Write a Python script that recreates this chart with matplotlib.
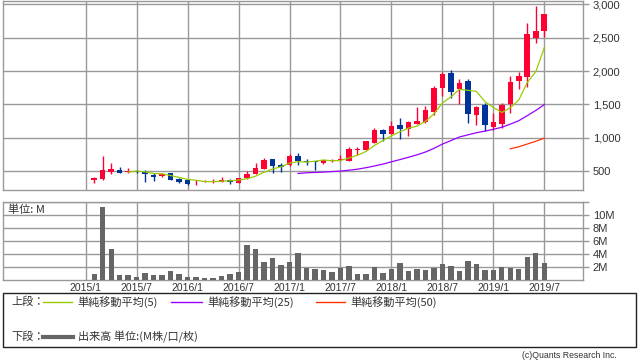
import matplotlib
matplotlib.use('Agg')
import matplotlib.pyplot as plt
import numpy as np
from matplotlib.lines import Line2D
from matplotlib.patches import Rectangle

# monthly candles, 2015/2 .. 2019/7
opens = [375, 385, 495, 520, 485, 500, 490, 450, 425, 475,
         385, 370, 335, 337, 350, 340, 370, 330, 395, 465,
         540, 685, 595, 595, 730, 655, 655, 630, 655, 665,
         655, 825, 820, 925, 1120, 1060, 1200, 1135, 1210, 1235,
         1380, 1745, 1970, 1735, 1855, 1340, 1495, 1160, 1215, 1510,
         1850, 1905, 2500, 2600]
highs = [410, 735, 625, 565, 550, 520, 520, 480, 470, 480,
         405, 375, 365, 368, 385, 415, 390, 405, 510, 630,
         705, 690, 620, 765, 780, 690, 660, 675, 685, 740,
         865, 870, 960, 1155, 1140, 1250, 1290, 1255, 1460, 1470,
         1770, 1990, 2020, 1885, 1885, 1475, 1515, 1370, 1520, 1920,
         1990, 2720, 2975, 2855]
lows = [320, 370, 465, 478, 482, 470, 335, 360, 410, 370,
        325, 300, 295, 333, 330, 335, 315, 325, 390, 460,
        535, 480, 490, 580, 595, 595, 525, 610, 635, 660,
        650, 745, 815, 920, 955, 1055, 985, 1030, 1205, 1230,
        1345, 1620, 1595, 1505, 1225, 1190, 1100, 1125, 1155, 1370,
        1735, 1760, 2420, 2510]
closes = [400, 520, 535, 480, 500, 487, 455, 415, 455, 375,
          340, 315, 345, 362, 362, 375, 345, 400, 465, 550,
          670, 585, 570, 735, 660, 645, 645, 665, 670, 685,
          835, 840, 955, 1115, 1065, 1180, 1140, 1235, 1255, 1420,
          1745, 1955, 1690, 1820, 1350, 1465, 1195, 1245, 1495, 1830,
          1920, 2550, 2595, 2850]
volumes = [0.96, 11.2, 4.76, 0.81, 0.81, 0.5, 1.16, 0.81, 0.81, 1.42,
           0.96, 0.5, 0.5, 0.35, 0.35, 0.66, 0.96, 1.27, 5.37, 4.76,
           2.78, 3.39, 2.33, 2.78, 4.15, 1.87, 1.72, 1.57, 1.27, 1.87,
           2.18, 0.96, 0.96, 2.03, 1.11, 1.72, 2.63, 1.42, 1.72, 1.57,
           1.87, 2.48, 2.18, 1.42, 2.94, 2.48, 1.57, 1.57, 2.03, 1.87,
           1.72, 3.54, 4.15, 2.63]

# moving averages as drawn (start at candle 5 / 25 / 50)
ma5 = [487, 504, 491, 467, 462, 437, 408, 380, 366, 347,
       345, 352, 358, 369, 389, 427, 486, 534, 568, 622,
       644, 639, 651, 670, 657, 662, 700, 739, 797, 886,
       962, 1031, 1091, 1147, 1175, 1246, 1359, 1522, 1613, 1726,
       1712, 1696, 1544, 1455, 1380, 1450, 1568, 1830, 1989, 2349]
ma25 = [468, 478, 483, 488, 496, 503, 517, 532, 554, 580,
        608, 642, 675, 710, 746, 788, 843, 907, 959, 1013,
        1045, 1077, 1101, 1128, 1159, 1206, 1257, 1333, 1410, 1497]
ma50 = [837, 867, 908, 949, 996]

tick_labels = ['2015/1', '2015/7', '2016/1', '2016/7', '2017/1',
               '2017/7', '2018/1', '2018/7', '2019/1', '2019/7']

W, H = 638, 362
def fx(x):
    return x / W
def fy(y):
    return 1 - y / H

RED = '#ff0033'
BLUE = '#003399'
GRID = '#999999'
TXT = '#333333'
JP = ['Noto Sans CJK JP', 'DejaVu Sans']
plt.rcParams['font.family'] = ['Liberation Sans', 'DejaVu Sans']

fig = plt.figure(figsize=(W / 100, H / 100), dpi=100)
ax = fig.add_axes([fx(3), fy(190.3), fx(580), 189.8 / H])
axv = fig.add_axes([fx(3), fy(280.3), fx(580), 78.8 / H])

x = np.arange(1, len(closes) + 1)  # month index, 0 = 2015/1
o = np.array(opens)
c = np.array(closes)
cols = [RED if cc >= oo else BLUE for oo, cc in zip(o, c)]

ax.vlines(x, lows, highs, colors=cols, lw=1.0, zorder=3)
ax.bar(x, np.maximum(np.abs(c - o), 12), bottom=np.minimum(o, c), width=0.66,
       color=cols, zorder=4)
ax.plot(x[4:], ma5, color='#99cc00', lw=0.9, zorder=5)
ax.plot(x[24:], ma25, color='#9900ff', lw=0.9, zorder=5)
ax.plot(x[49:], ma50, color='#ff3300', lw=0.9, zorder=5)

axv.bar(x, volumes, width=0.63, color='#666666', zorder=3)

xt = np.arange(0, 55, 6)
for a in (ax, axv):
    a.set_xlim(-9.74, 58.56)
    a.set_xticks(xt)
    a.grid(True, color=GRID, lw=1.0, zorder=0)
    a.set_axisbelow(True)
    for s in a.spines.values():
        s.set_color(GRID)
        s.set_linewidth(1.0)
    a.yaxis.tick_right()
    a.tick_params(axis='y', length=4, color=GRID, width=1.0, labelsize=8,
                  labelcolor=TXT, pad=3)
    a.tick_params(axis='x', length=0, labelsize=7.5, labelcolor=TXT, pad=2)

ax.set_ylim(216, 3055)
ax.set_yticks([500, 1000, 1500, 2000, 2500, 3000])
ax.set_yticklabels(['500', '1,000', '1,500', '2,000', '2,500', '3,000'])
ax.set_xticklabels([])

axv.set_ylim(0, 12)
axv.set_yticks([2, 4, 6, 8, 10, 12])
axv.set_yticklabels(['2M', '4M', '6M', '8M', '10M', ''])
axv.set_xticklabels(tick_labels)
axv.text(fx(8), fy(209.5), '単位: M', transform=fig.transFigure, family=JP,
         fontsize=8, color=TXT, va='center', ha='left')

# legend box
fig.add_artist(Rectangle((fx(3), fy(347)), fx(633), 54 / H, transform=fig.transFigure,
                         fill=False, edgecolor='#222222', lw=1.0))
fig.text(fx(11), fy(302), '上段：', family=JP, fontsize=8, color=TXT, va='center')
items = [('#99cc00', 43, 72, 77, '単純移動平均(5)'),
         ('#9900ff', 171, 202, 207, '単純移動平均(25)'),
         ('#ff3300', 316, 345, 350, '単純移動平均(50)')]
for col, x0, x1, tx, lab in items:
    fig.add_artist(Line2D([fx(x0), fx(x1)], [fy(302), fy(302)], color=col, lw=1.0,
                          transform=fig.transFigure))
    fig.text(fx(tx), fy(302), lab, family=JP, fontsize=8, color=TXT, va='center')
fig.text(fx(11), fy(337), '下段：', family=JP, fontsize=8, color=TXT, va='center')
fig.add_artist(Line2D([fx(43), fx(73)], [fy(337), fy(337)], color='#666666', lw=3,
                      transform=fig.transFigure))
fig.text(fx(78), fy(337), '出来高 単位:(M株/口/枚)', family=JP, fontsize=8, color=TXT,
         va='center')
fig.text(fx(617), fy(356), '(c)Quants Research Inc.', fontsize=6.3,
         color=TXT, va='center', ha='right')

fig.savefig('out.png', dpi=100)
